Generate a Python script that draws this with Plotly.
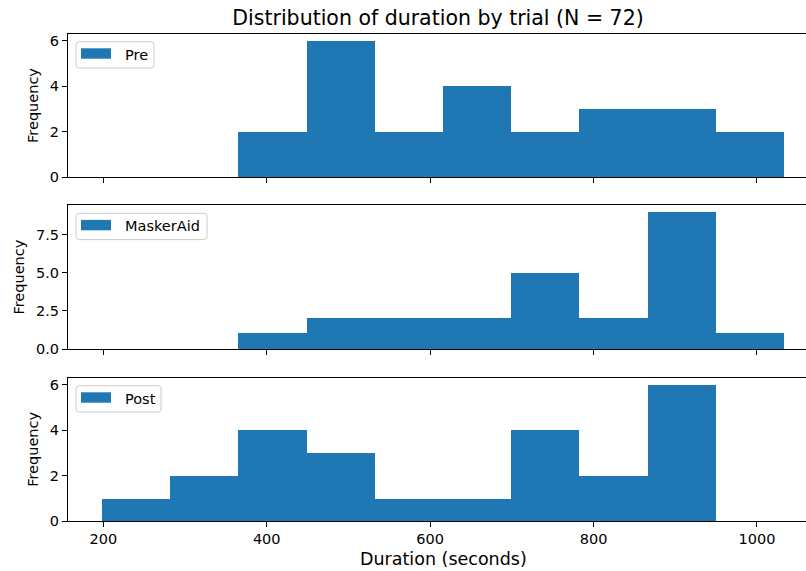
import plotly.graph_objects as go

# ---- data ----
bin_edges = [198.4, 281.9, 365.4, 448.8, 532.3, 615.8, 699.3, 782.7, 866.2, 949.7, 1033.2]
trials = ["Pre", "MaskerAid", "Post"]
pre_counts = [0, 0, 2, 6, 2, 4, 2, 3, 3, 2]
maskeraid_counts = [0, 0, 1, 2, 2, 2, 5, 2, 9, 1]
post_counts = [1, 2, 4, 3, 1, 1, 4, 2, 6, 0]
x_ticks = [200, 400, 600, 800, 1000]
y_ticks_small = [0, 2, 4, 6]
y_ticks_mid = [0, 2.5, 5.0, 7.5]

counts_by_trial = [pre_counts, maskeraid_counts, post_counts]
centers = [(a + b) / 2 for a, b in zip(bin_edges[:-1], bin_edges[1:])]
widths = [b - a for a, b in zip(bin_edges[:-1], bin_edges[1:])]

W, H = 806, 571
L = 68
PW = W - L
# axes vertical spans in pixels (top, bottom)
spans = [(33.7, 177.3), (205.3, 349.0), (377.7, 521.0)]
y_ranges = [[0, 6.3], [0, 9.45], [0, 6.3]]
y_tickvals = [y_ticks_small, y_ticks_mid, y_ticks_small]
y_ticktext = [[str(v) for v in y_ticks_small], ["%.1f" % v for v in y_ticks_mid], [str(v) for v in y_ticks_small]]
legend_box_w = {"Pre": 78, "MaskerAid": 131, "Post": 85}

BLUE = "#1f77b4"
FONT = "DejaVu Sans"

fig = go.Figure()
shapes = []
annotations = []
layout = {}

for i, (name, counts) in enumerate(zip(trials, counts_by_trial)):
    n = i + 1
    xa = "x" if n == 1 else f"x{n}"
    ya = "y" if n == 1 else f"y{n}"
    fig.add_trace(go.Bar(x=centers, y=counts, width=widths, xaxis=xa, yaxis=ya,
                         marker=dict(color=BLUE, line=dict(width=0)),
                         showlegend=False, name=name,
                         hovertemplate="%{y}<extra>" + name + "</extra>"))
    top, bot = spans[i]
    ph = bot - top
    layout[f"xaxis{'' if n == 1 else n}"] = dict(
        domain=[0, 1], anchor=ya, range=[156.8, 1060.0],
        tickvals=x_ticks, showticklabels=(n == 3),
        ticks="outside", ticklen=5, tickwidth=1, tickcolor="#000",
        showline=True, linecolor="#000", linewidth=1, mirror=True,
        showgrid=False, zeroline=False, automargin=False,
        tickfont=dict(family=FONT, size=14.5, color="#000"),
        matches=None if n == 1 else "x",
    )
    layout[f"yaxis{'' if n == 1 else n}"] = dict(
        domain=[1 - bot / H, 1 - top / H], anchor=xa, range=y_ranges[i],
        tickvals=y_tickvals[i], ticktext=y_ticktext[i],
        ticks="outside", ticklen=5, tickwidth=1, tickcolor="#000",
        showline=True, linecolor="#000", linewidth=1, mirror=False,
        showgrid=False, zeroline=False, automargin=False,
        tickfont=dict(family=FONT, size=14.5, color="#000"),
        title=dict(text="Frequency", font=dict(family=FONT, size=14.5, color="#000"), standoff=7),
    )
    # legend drawn per subplot
    xd = f"{xa} domain"
    yd = f"{ya} domain"
    bx0, by0, bw, bh, r = 8, 8, legend_box_w[name], 26.3, 3
    def X(px):
        return px / PW
    def Y(py):
        return 1 - py / ph
    path = (f"M {X(bx0 + r)},{Y(by0)} L {X(bx0 + bw - r)},{Y(by0)} "
            f"Q {X(bx0 + bw)},{Y(by0)} {X(bx0 + bw)},{Y(by0 + r)} "
            f"L {X(bx0 + bw)},{Y(by0 + bh - r)} "
            f"Q {X(bx0 + bw)},{Y(by0 + bh)} {X(bx0 + bw - r)},{Y(by0 + bh)} "
            f"L {X(bx0 + r)},{Y(by0 + bh)} "
            f"Q {X(bx0)},{Y(by0 + bh)} {X(bx0)},{Y(by0 + bh - r)} "
            f"L {X(bx0)},{Y(by0 + r)} "
            f"Q {X(bx0)},{Y(by0)} {X(bx0 + r)},{Y(by0)} Z")
    shapes.append(dict(type="path", path=path, xref=xd, yref=yd,
                       line=dict(color="#cccccc", width=1), fillcolor="rgba(255,255,255,0.8)"))
    shapes.append(dict(type="rect", xref=xd, yref=yd, x0=X(13), x1=X(43), y0=Y(14.6), y1=Y(25),
                       line=dict(width=0), fillcolor=BLUE))
    annotations.append(dict(text=name, xref=xd, yref=yd, x=X(55), y=Y(21), xanchor="left",
                            yanchor="middle", showarrow=False,
                            font=dict(family=FONT, size=14.5, color="#000")))

annotations.append(dict(text="Duration (seconds)", xref="paper", yref="paper",
                        x=(443 - L) / PW, y=1 - 559 / H, xanchor="center", yanchor="middle",
                        showarrow=False, font=dict(family=FONT, size=17.5, color="#000")))

fig.update_layout(
    width=W, height=H,
    margin=dict(l=L, r=0, t=0, b=0, pad=0),
    paper_bgcolor="white", plot_bgcolor="white",
    title=dict(text="Distribution of duration by trial (N = 72)", x=438 / W, xref="container",
               xanchor="center", y=1 - 18 / H, yref="container", yanchor="middle",
               font=dict(family=FONT, size=20.5, color="#000")),
    shapes=shapes, annotations=annotations,
    bargap=0,
    **layout,
)

fig.write_html("out.html", config={"displayModeBar": False},
               post_script="document.body.style.margin='0';document.body.style.overflow='hidden';")
